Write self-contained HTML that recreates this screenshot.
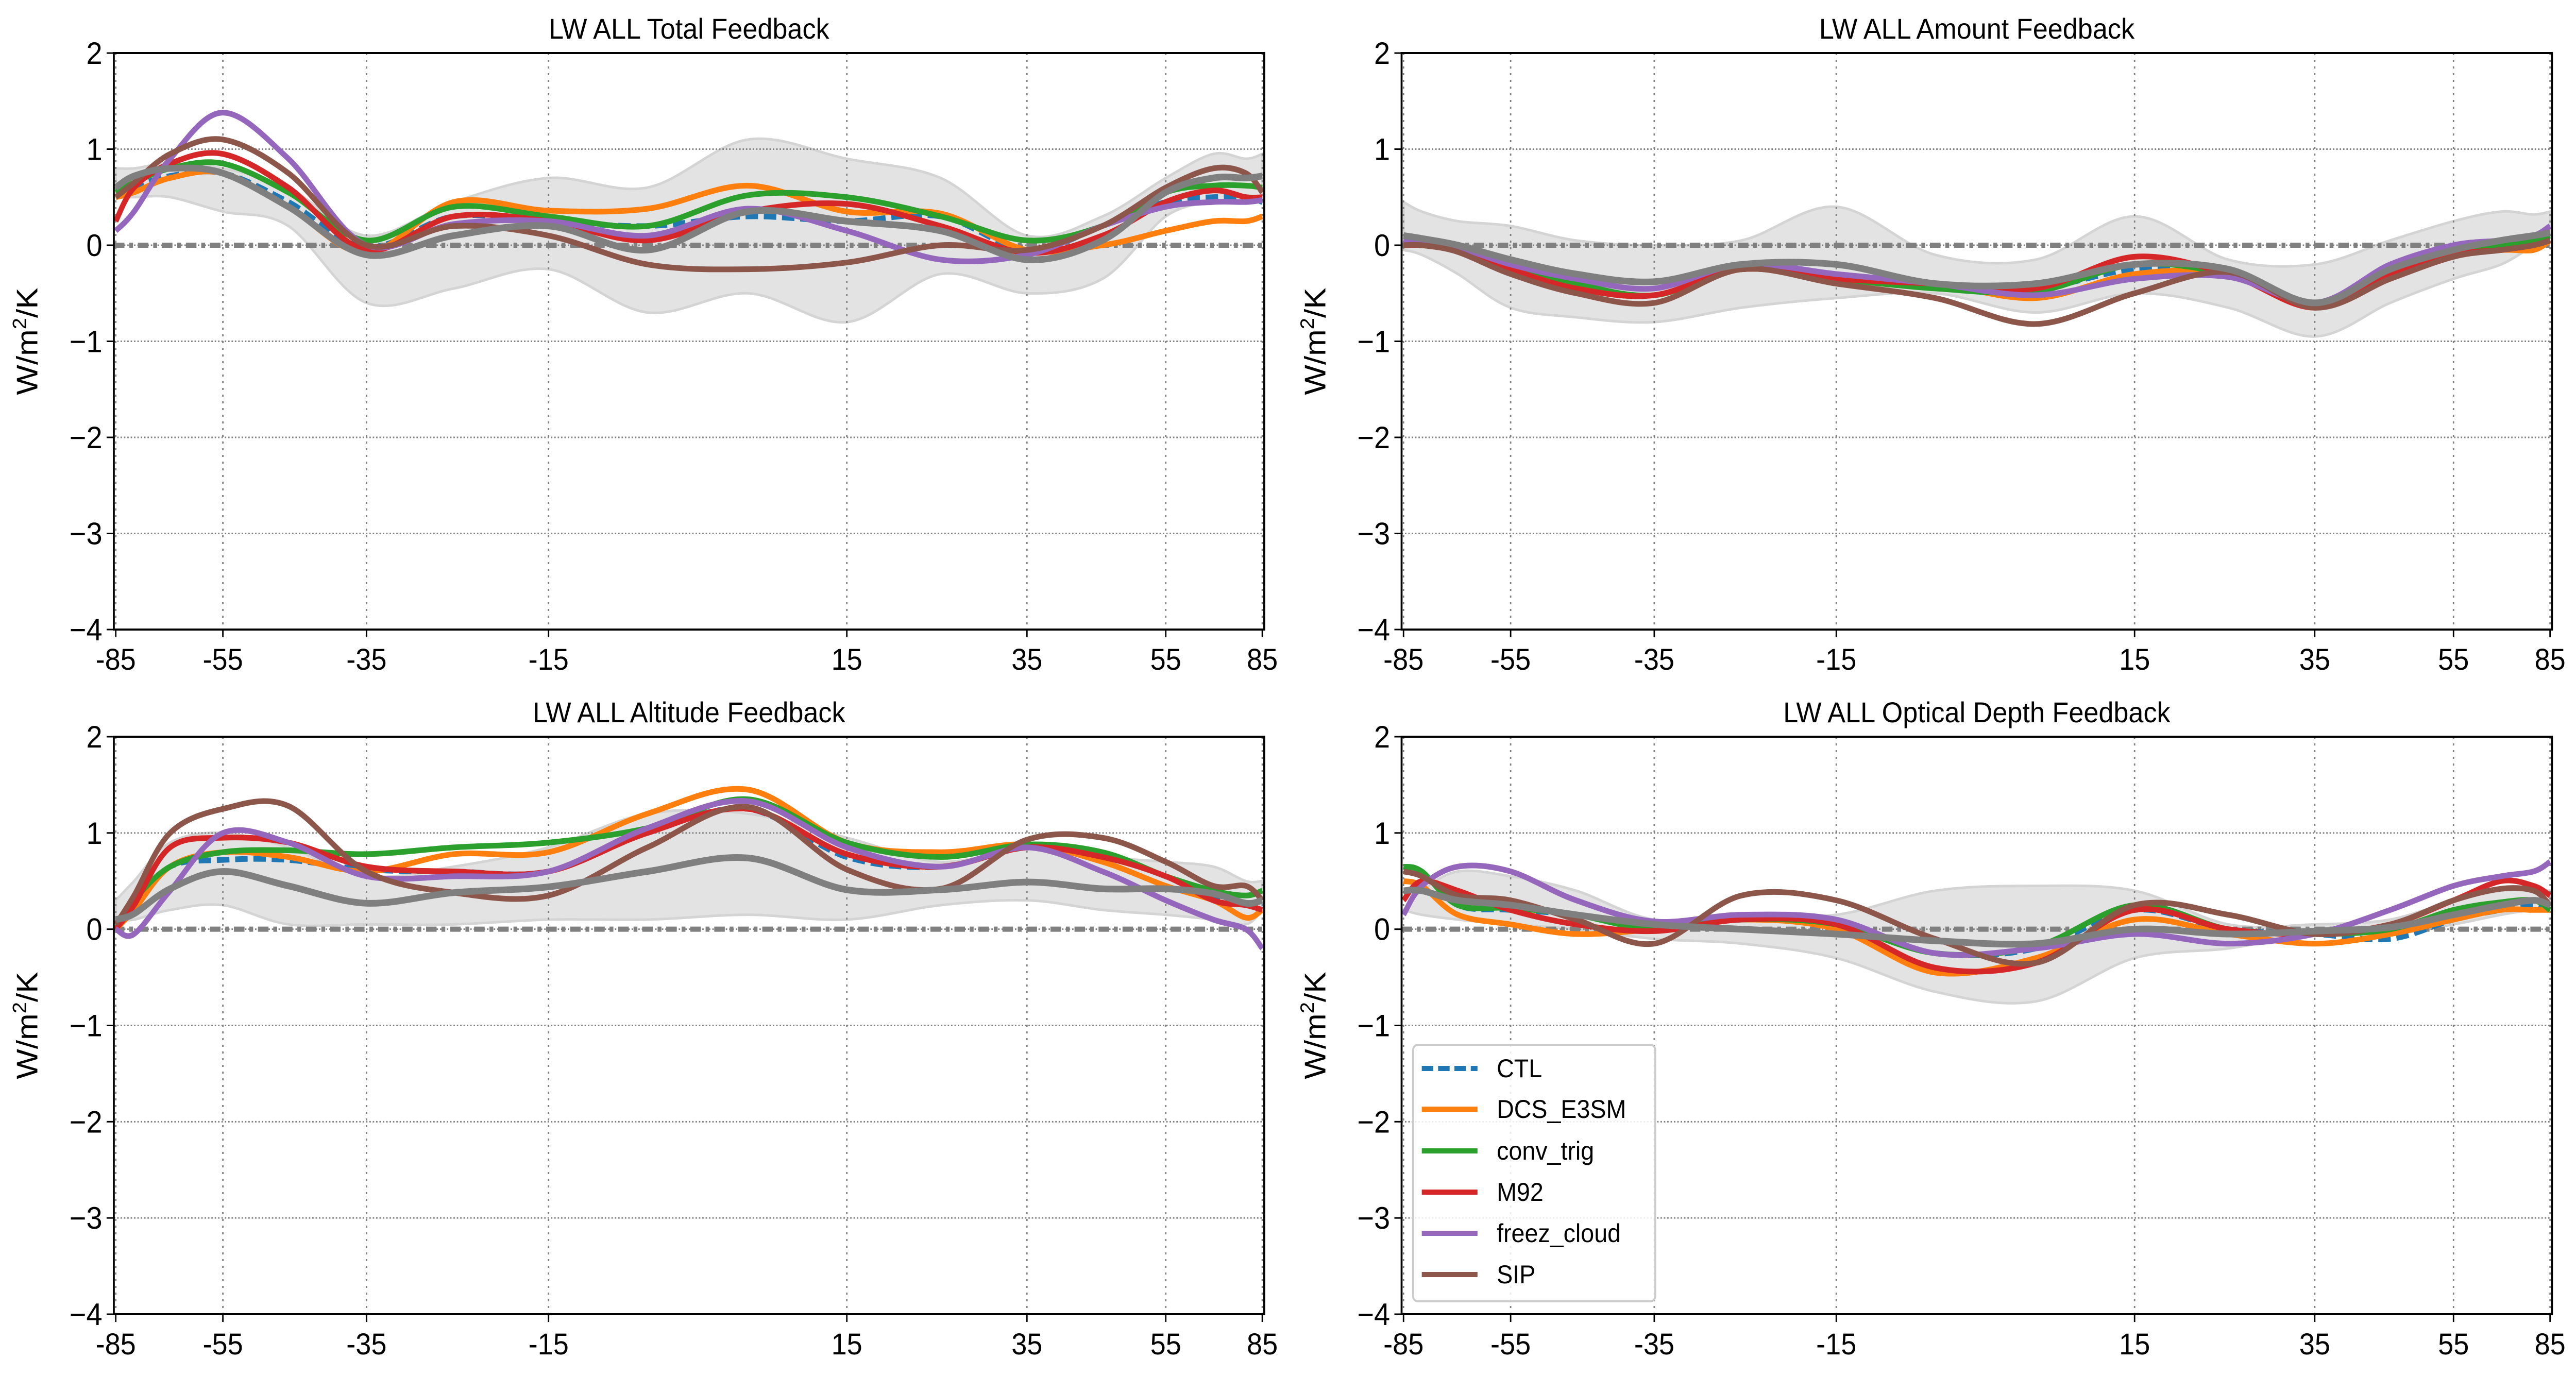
<!DOCTYPE html>
<html><head><meta charset="utf-8"><style>
html,body{margin:0;padding:0;background:#fff;width:100%;height:100%;overflow:hidden;}
svg{display:block;font-family:"Liberation Sans",sans-serif;position:absolute;left:0;top:0;width:100vw;height:100vh;}
</style></head><body>
<svg id="fig" xmlns="http://www.w3.org/2000/svg" viewBox="0 0 5363 2669" preserveAspectRatio="none"></svg>
<script>
const lats=[-85,-75,-65,-55,-45,-35,-25,-15,-5,5,15,25,35,45,55,65,75,85];
const xTickLabels=["-85","-55","-35","-15","15","35","55","85"];
const yTickValues=[2,1,0,-1,-2,-3,-4];
const seriesNames=["CTL","DCS_E3SM","conv_trig","M92","freez_cloud","SIP"];
const panelTitles=["LW ALL Total Feedback","LW ALL Amount Feedback","LW ALL Altitude Feedback","LW ALL Optical Depth Feedback"];

// Panel 1: Total
const p1_ctl=[0.5,0.6,0.72,0.75,0.45,-0.02,0.3,0.25,0.2,0.3,0.25,0.3,-0.05,0.2,0.45,0.5,0.5,0.45];
const p1_dcs=[0.5,0.55,0.7,0.75,0.4,-0.08,0.45,0.36,0.38,0.62,0.35,0.33,-0.05,0.0,0.15,0.25,0.25,0.3];
const p1_conv=[0.55,0.65,0.8,0.85,0.55,0.05,0.4,0.3,0.2,0.52,0.5,0.3,0.05,0.2,0.55,0.62,0.62,0.6];
const p1_m92=[0.25,0.6,0.85,0.95,0.6,-0.05,0.3,0.25,0.05,0.35,0.43,0.2,-0.08,0.1,0.45,0.57,0.5,0.5];
const p1_frz=[0.15,0.35,0.9,1.38,0.9,0.0,0.22,0.25,0.1,0.38,0.15,-0.15,-0.1,0.2,0.4,0.45,0.45,0.47];
const p1_sip=[0.5,0.65,0.95,1.1,0.75,0.0,0.2,0.1,-0.2,-0.25,-0.18,0.0,-0.05,0.2,0.6,0.8,0.75,0.55];
const p1_obs=[0.6,0.72,0.8,0.75,0.4,-0.1,0.1,0.2,-0.05,0.35,0.25,0.15,-0.15,0.05,0.55,0.7,0.7,0.72];
const p1_lo=[0.5,0.5,0.5,0.35,0.2,-0.6,-0.45,-0.25,-0.7,-0.5,-0.8,-0.3,-0.5,-0.35,0.3,0.45,0.45,0.45];
const p1_hi=[0.8,0.8,0.85,0.8,0.6,0.1,0.45,0.7,0.6,1.1,0.9,0.7,0.1,0.3,0.7,0.95,0.9,0.95];

// Panel 2: Amount
const p2_ctl=[0.0,0.0,-0.05,-0.25,-0.45,-0.52,-0.25,-0.35,-0.4,-0.45,-0.25,-0.3,-0.65,-0.3,-0.1,-0.05,0.0,0.05];
const p2_dcs=[0.0,0.0,-0.05,-0.25,-0.45,-0.52,-0.25,-0.35,-0.4,-0.55,-0.3,-0.3,-0.65,-0.3,-0.1,-0.05,-0.05,0.05];
const p2_conv=[0.0,0.0,-0.05,-0.2,-0.4,-0.52,-0.25,-0.35,-0.45,-0.48,-0.2,-0.3,-0.6,-0.25,-0.05,0.0,0.05,0.1];
const p2_m92=[0.0,0.0,-0.05,-0.25,-0.45,-0.52,-0.25,-0.35,-0.4,-0.45,-0.12,-0.3,-0.65,-0.3,-0.1,-0.05,0.0,0.05];
const p2_frz=[0.05,0.05,-0.02,-0.2,-0.35,-0.45,-0.2,-0.3,-0.4,-0.52,-0.35,-0.33,-0.6,-0.2,0.0,0.05,0.1,0.2];
const p2_sip=[0.0,0.0,-0.07,-0.3,-0.5,-0.6,-0.25,-0.4,-0.55,-0.82,-0.5,-0.28,-0.65,-0.35,-0.12,-0.05,0.0,0.05];
const p2_obs=[0.1,0.07,0.0,-0.15,-0.3,-0.38,-0.2,-0.2,-0.4,-0.4,-0.2,-0.25,-0.6,-0.25,-0.05,0.05,0.1,0.13];
const p2_lo=[-0.05,-0.1,-0.3,-0.65,-0.75,-0.8,-0.65,-0.55,-0.5,-0.7,-0.5,-0.65,-0.95,-0.6,-0.35,-0.2,0.0,0.1];
const p2_hi=[0.45,0.35,0.25,0.2,0.05,0.0,0.05,0.4,-0.1,-0.15,0.3,-0.15,-0.2,0.05,0.25,0.35,0.32,0.35];

// Panel 3: Altitude
const p3_ctl=[0.0,0.25,0.65,0.72,0.72,0.62,0.6,0.6,1.0,1.25,0.75,0.65,0.85,0.78,0.55,0.35,0.25,0.25];
const p3_dcs=[0.0,0.2,0.65,0.8,0.75,0.6,0.78,0.8,1.2,1.45,0.9,0.8,0.88,0.7,0.45,0.3,0.12,0.2];
const p3_conv=[0.0,0.3,0.65,0.8,0.82,0.78,0.85,0.9,1.05,1.35,0.9,0.75,0.88,0.8,0.55,0.4,0.35,0.4];
const p3_m92=[0.0,0.25,0.85,0.95,0.9,0.65,0.6,0.6,1.0,1.25,0.78,0.65,0.85,0.75,0.55,0.3,0.25,0.2];
const p3_frz=[0.0,-0.05,0.4,1.0,0.9,0.55,0.55,0.6,1.05,1.33,0.85,0.65,0.85,0.6,0.3,0.1,0.0,-0.2];
const p3_sip=[0.05,0.35,1.0,1.25,1.28,0.6,0.38,0.35,0.85,1.27,0.62,0.42,0.93,0.95,0.7,0.45,0.45,0.3];
const p3_obs=[0.1,0.16,0.42,0.6,0.45,0.27,0.38,0.44,0.6,0.74,0.41,0.41,0.49,0.42,0.42,0.37,0.27,0.3];
const p3_lo=[0.1,0.1,0.2,0.25,0.05,0.05,0.05,0.1,0.1,0.15,0.1,0.25,0.3,0.2,0.15,0.1,0.05,0.2];
const p3_hi=[0.3,0.5,0.9,1.0,0.85,0.55,0.65,0.85,1.2,1.2,0.95,0.7,0.85,0.75,0.7,0.65,0.5,0.5];

// Panel 4: Optical Depth
const p4_ctl=[0.65,0.6,0.25,0.2,0.15,0.0,0.1,0.05,-0.25,-0.2,0.2,0.0,-0.05,-0.1,0.1,0.2,0.25,0.2];
const p4_dcs=[0.5,0.45,0.15,0.05,-0.05,0.0,0.1,0.0,-0.45,-0.3,0.1,-0.05,-0.15,-0.05,0.1,0.2,0.2,0.2];
const p4_conv=[0.65,0.6,0.25,0.22,0.15,0.0,0.1,0.05,-0.25,-0.18,0.25,0.0,-0.05,0.0,0.2,0.28,0.3,0.2];
const p4_m92=[0.3,0.5,0.4,0.2,0.05,-0.02,0.1,0.05,-0.4,-0.35,0.2,0.0,-0.05,0.05,0.3,0.5,0.45,0.35];
const p4_frz=[0.15,0.45,0.65,0.6,0.3,0.08,0.15,0.1,-0.25,-0.2,-0.05,-0.15,-0.05,0.2,0.45,0.55,0.6,0.7];
const p4_sip=[0.6,0.55,0.35,0.3,0.1,-0.15,0.35,0.3,-0.1,-0.35,0.25,0.15,-0.05,0.05,0.3,0.42,0.4,0.25];
const p4_obs=[0.4,0.4,0.3,0.25,0.15,0.05,0.0,-0.05,-0.12,-0.15,0.0,-0.05,-0.02,0.02,0.15,0.25,0.3,0.25];
const p4_lo=[0.2,0.15,0.1,0.05,0.0,-0.1,-0.15,-0.3,-0.65,-0.75,-0.3,-0.2,-0.05,-0.05,0.05,0.15,0.2,0.2];
const p4_hi=[0.2,0.4,0.6,0.55,0.4,0.1,0.15,0.15,0.4,0.45,0.4,0.05,0.05,0.1,0.3,0.4,0.4,0.4];

const panelSeries=[
 [p1_ctl,p1_dcs,p1_conv,p1_m92,p1_frz,p1_sip,p1_obs,p1_lo,p1_hi],
 [p2_ctl,p2_dcs,p2_conv,p2_m92,p2_frz,p2_sip,p2_obs,p2_lo,p2_hi],
 [p3_ctl,p3_dcs,p3_conv,p3_m92,p3_frz,p3_sip,p3_obs,p3_lo,p3_hi],
 [p4_ctl,p4_dcs,p4_conv,p4_m92,p4_frz,p4_sip,p4_obs,p4_lo,p4_hi]
];

const NS="http://www.w3.org/2000/svg";
const svg=document.getElementById("fig");
const colors=["#1f77b4","#ff7f0e","#2ca02c","#d62728","#9467bd","#8c564b"];
const tickLat=[-85,-55,-35,-15,15,35,55,85];
const tickPx=[241,464,763,1142,1763,2138,2427,2628];
const panels=[{ox:0,top:103,bot:1222},{ox:2681,top:103,bot:1222},{ox:0,top:1430,bot:2551},{ox:2681,top:1430,bot:2551}];
const rad=d=>d*Math.PI/180;
function xScale(lat,ox){
  const s=Math.sin(rad(lat));
  for(let i=0;i<tickLat.length-1;i++){
    const a=Math.sin(rad(tickLat[i])),b=Math.sin(rad(tickLat[i+1]));
    if(s<=b||i===tickLat.length-2){return ox+tickPx[i]+(s-a)/(b-a)*(tickPx[i+1]-tickPx[i]);}
  }
}
function yScale(v,p){return p.top+(2-v)/6*(p.bot-p.top);}
function el(tag,attrs,parent){const e=document.createElementNS(NS,tag);for(const k in attrs)e.setAttribute(k,attrs[k]);(parent||svg).appendChild(e);return e;}
function smoothPath(pts,move){
  let d=move?`M${pts[0][0]},${pts[0][1]}`:`L${pts[0][0]},${pts[0][1]}`;
  for(let i=0;i<pts.length-1;i++){
    const p0=pts[Math.max(0,i-1)],p1=pts[i],p2=pts[i+1],p3=pts[Math.min(pts.length-1,i+2)];
    const c1=[p1[0]+(p2[0]-p0[0])/6,p1[1]+(p2[1]-p0[1])/6];
    const c2=[p2[0]-(p3[0]-p1[0])/6,p2[1]-(p3[1]-p1[1])/6];
    d+=` C${c1[0]},${c1[1]} ${c2[0]},${c2[1]} ${p2[0]},${p2[1]}`;
  }
  return d;
}

panels.forEach((p,pi)=>{
  const g=el("g",{});
  
  
  const L=237+p.ox,R=2632+p.ox;
  const data=panelSeries[pi];
  const hiPts=lats.map((la,i)=>[xScale(la,p.ox),yScale(data[8][i],p)]);
  const loPts=lats.map((la,i)=>[xScale(la,p.ox),yScale(data[7][i],p)]).reverse();
  const band=el("path",{d:smoothPath(hiPts,true)+" "+smoothPath(loPts,false)+" Z",fill:"#e3e3e3",stroke:"#d4d4d4","stroke-width":5},g);
  
  
  tickLat.forEach((la,i)=>{
    const x=xScale(la,p.ox);
    const gl=el("line",{x1:x,x2:x,y1:p.top,y2:p.bot,stroke:"#808080","stroke-width":3,"stroke-dasharray":"4,9"},g);
    
    
    const tk=el("line",{x1:x,x2:x,y1:p.bot,y2:p.bot+15,stroke:"#000","stroke-width":3},g);
    
    
    const t=el("text",{x:x,y:p.bot+78,"font-size":58,"text-anchor":"middle",fill:"#000"},g);
    t.textContent=xTickLabels[i];
    
    
  });
  yTickValues.forEach(v=>{
    const y=yScale(v,p);
    const gl=el("line",{x1:L,x2:R,y1:y,y2:y,stroke:"#808080","stroke-width":3,"stroke-dasharray":"3,4"},g);
    
    
    const tk=el("line",{x1:L-15,x2:L,y1:y,y2:y,stroke:"#000","stroke-width":3},g);
    
    
    const t=el("text",{x:L-24,y:y+21,"font-size":60,"text-anchor":"end",fill:"#000"},g);
    t.textContent=v<0?"\u2212"+Math.abs(v):String(v);
    
    
  });
  const z=el("line",{x1:L,x2:R,y1:yScale(0,p),y2:yScale(0,p),stroke:"#808080","stroke-width":10,"stroke-dasharray":"22,10,8,10"},g);
  
  
  for(let s=0;s<6;s++){
    const pts=lats.map((la,i)=>[xScale(la,p.ox),yScale(data[s][i],p)]);
    const attrs={d:smoothPath(pts,true),fill:"none",stroke:colors[s],"stroke-width":11,"stroke-linejoin":"round"};
    if(s===0)attrs["stroke-dasharray"]="26,12";
    const ln=el("path",attrs,g);
    
    
  }
  const opts=lats.map((la,i)=>[xScale(la,p.ox),yScale(data[6][i],p)]);
  const ob=el("path",{d:smoothPath(opts,true),fill:"none",stroke:"#7f7f7f","stroke-width":13,"stroke-linejoin":"round"},g);
  
  
  const fr=el("rect",{x:L,y:p.top,width:R-L,height:p.bot-p.top,fill:"none",stroke:"#000","stroke-width":4},g);
  
  
  const tt=el("text",{x:(L+R)/2,y:p.top-28,"font-size":56,"text-anchor":"middle",fill:"#000"},g);
  tt.textContent=panelTitles[pi];
  
  
  const cy=(p.top+p.bot)/2, cx=p.ox+78;
  const yl=el("text",{x:cx,y:cy,"font-size":62,"text-anchor":"middle",fill:"#000",transform:`rotate(-90 ${cx} ${cy})`},g);
  yl.innerHTML='W/m<tspan font-size="40" dy="-24">2</tspan><tspan dy="24">/K</tspan>';
  
  
});

const lg=el("g",{});


el("rect",{x:2942,y:2028,width:504,height:498,rx:10,fill:"#fff","fill-opacity":0.85,stroke:"#cccccc","stroke-width":4},lg);
const legY=[2074,2153,2234,2314,2394,2474];
seriesNames.forEach((n,i)=>{
  const e=el("g",{},lg);
  
  
  const a={x1:2960,x2:3076,y1:legY[i],y2:legY[i],stroke:colors[i],"stroke-width":10};
  if(i===0)a["stroke-dasharray"]="24,10";
  el("line",a,e);
  const t=el("text",{x:3116,y:legY[i]+17,"font-size":50,fill:"#000"},e);
  t.textContent=n;
});
</script>
</body></html>
